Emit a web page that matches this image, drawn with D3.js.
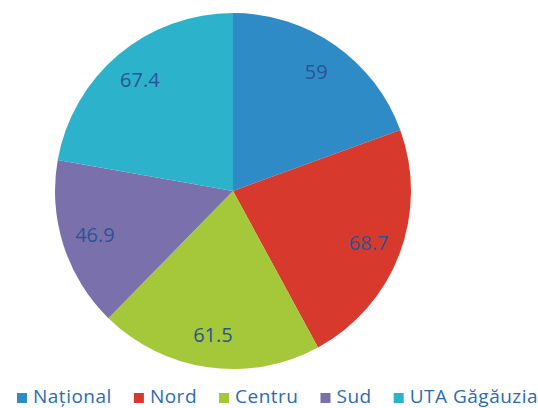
<!DOCTYPE html>
<html><head><meta charset="utf-8">
<script src="https://cdn.jsdelivr.net/npm/d3@7/dist/d3.min.js"></script>
<style>body{margin:0;background:#fff}svg{display:block}</style>
</head><body>
<svg id="c" width="538" height="408"></svg>
<script>
const categories = ["Național", "Nord", "Centru", "Sud", "UTA Găgăuzia"];
const values = [59, 68.7, 61.5, 46.9, 67.4];
const labels = ["59", "68.7", "61.5", "46.9", "67.4"];
const colors = ["#2E8BC6", "#D73A2C", "#A5C73A", "#7A71AC", "#2DB2CB"];

const svg = d3.select("#c");
const cx = 233, cy = 191, r = 178;
const data = categories.map((c, i) => ({cat: c, value: values[i], label: labels[i], color: colors[i]}));
const pie = d3.pie().value(d => d.value).sort(null);
const arcs = pie(data);
const arc = d3.arc().innerRadius(0).outerRadius(r);
const labelArc = d3.arc().innerRadius(145).outerRadius(145);

const g = svg.append("g").attr("transform", `translate(${cx},${cy})`);
g.selectAll("path").data(arcs).join("path")
  .attr("d", arc).attr("fill", d => d.data.color);
g.selectAll("text").data(arcs).join("text")
  .attr("transform", d => `translate(${labelArc.centroid(d)})`)
  .attr("text-anchor", "middle").attr("dy", "0.36em")
  .attr("font-family", "Open Sans, sans-serif").attr("font-size", 20)
  .attr("fill", "#2A5496")
  .text(d => d.data.label);

const leg = svg.append("g");
let x = 17;
data.forEach(d => {
  const it = leg.append("g");
  it.append("rect").attr("x", x).attr("y", 393).attr("width", 10).attr("height", 10).attr("fill", d.color);
  const t = it.append("text").attr("x", x + 16).attr("y", 403)
    .attr("font-family", "Open Sans, sans-serif").attr("font-size", 19)
    .attr("letter-spacing", 0.5)
    .attr("fill", "#2B6CB0").text(d.cat);
  x += 16 + t.node().getComputedTextLength() + 22;
});
</script>
</body></html>
